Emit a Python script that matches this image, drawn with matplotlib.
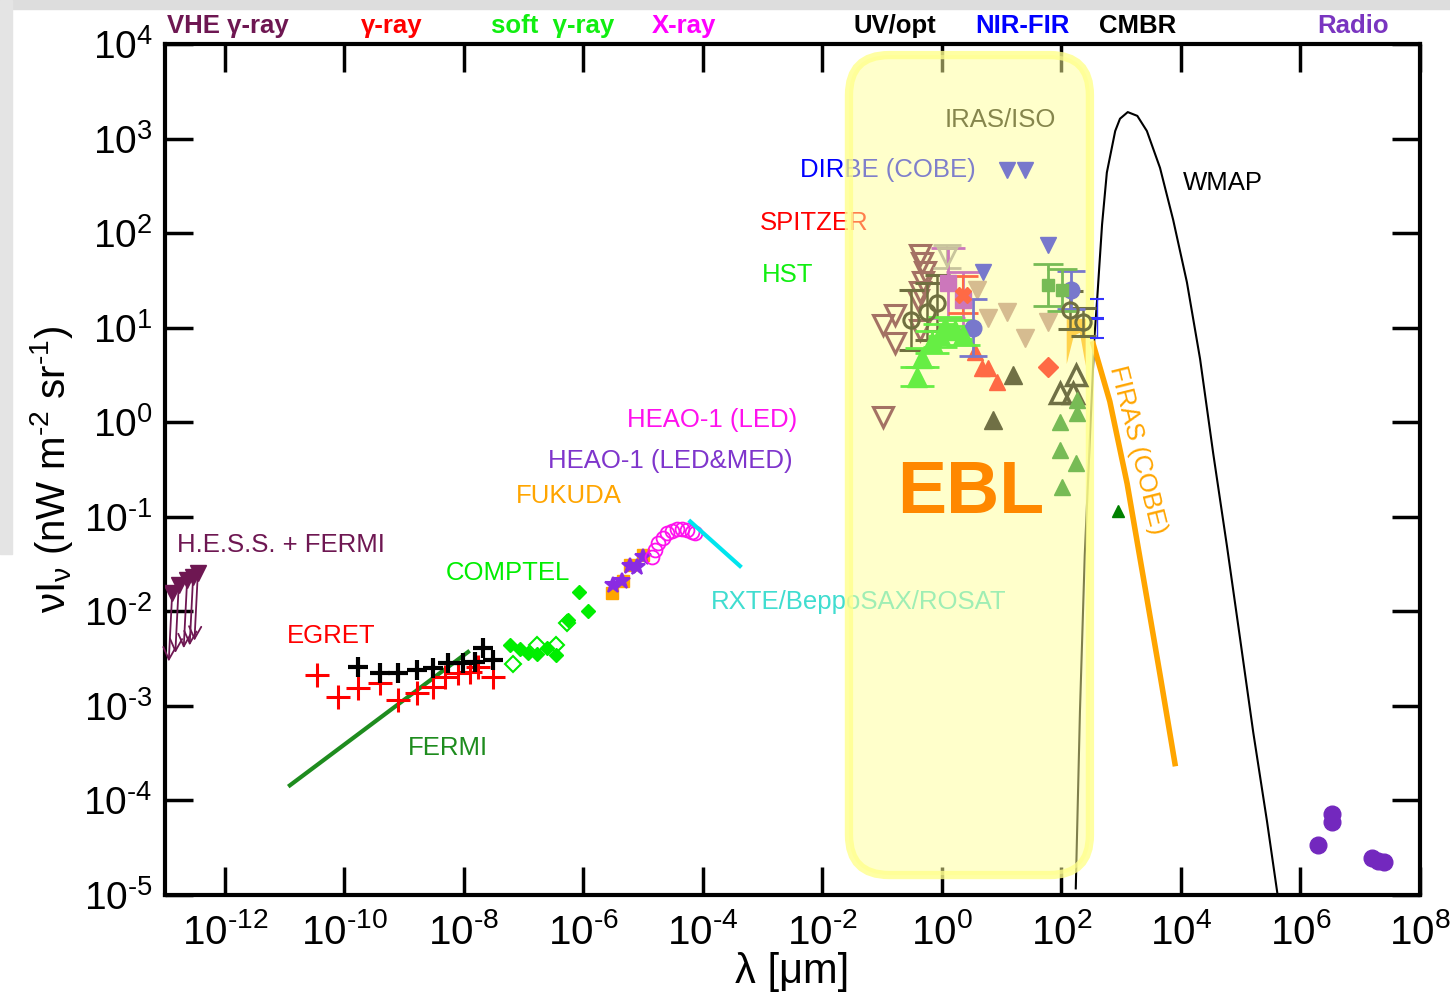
import matplotlib
matplotlib.use("Agg")
import matplotlib.pyplot as plt
from matplotlib.patches import FancyBboxPatch, Rectangle
from matplotlib.ticker import NullLocator
import numpy as np

plt.rcParams['font.family'] = ['Liberation Sans', 'DejaVu Sans']
plt.rcParams['mathtext.fontset'] = 'custom'
plt.rcParams['mathtext.rm'] = 'Liberation Sans'
plt.rcParams['mathtext.it'] = 'Liberation Sans:italic'
plt.rcParams['mathtext.default'] = 'regular'

# ---- data (log10 of lambda [um], log10 of nu I_nu [nW m^-2 sr^-1]) ----
hess_lx = [-12.88, -12.77, -12.63, -12.53, -12.45]
hess_ly = [-1.81, -1.72, -1.67, -1.64, -1.59]

egret_lx = [-10.46, -10.11, -9.77, -9.40, -9.10, -8.78, -8.52, -8.31, -8.10, -7.90, -7.76, -7.51]
egret_ly = [-2.67, -2.91, -2.81, -2.76, -2.94, -2.86, -2.80, -2.69, -2.65, -2.64, -2.59, -2.69]

fermi_pts_lx = [-9.77, -9.40, -9.10, -8.78, -8.52, -8.26, -8.01, -7.81, -7.68, -7.51]
fermi_pts_ly = [-2.59, -2.65, -2.65, -2.62, -2.60, -2.55, -2.55, -2.54, -2.39, -2.51]

fermi_line_lx = [-10.91, -7.93]
fermi_line_ly = [-3.84, -2.43]

comptel_lx = [-7.23, -7.06, -6.93, -6.78, -6.61, -6.46, -6.07, -5.92, -6.26]
comptel_ly = [-2.36, -2.40, -2.44, -2.45, -2.39, -2.46, -1.80, -2.00, -2.09]
comptel_open_lx = [-7.18, -6.78, -6.46, -6.27]
comptel_open_ly = [-2.56, -2.36, -2.36, -2.12]

fukuda_lx = [-5.52, -5.34, -5.22, -5.00]
fukuda_ly = [-1.81, -1.68, -1.51, -1.40]

heao_med_lx = [-5.50, -5.35, -5.22, -5.10, -5.00]
heao_med_ly = [-1.72, -1.68, -1.52, -1.53, -1.43]

heao_led_lx = [-4.85, -4.80, -4.75, -4.67, -4.60, -4.52, -4.43, -4.35, -4.27, -4.18, -4.13]
heao_led_ly = [-1.43, -1.35, -1.28, -1.22, -1.17, -1.15, -1.13, -1.13, -1.14, -1.16, -1.17]

rxte_lx = [-4.21, -3.38]
rxte_ly = [-1.05, -1.52]

# EBL region
brown_lx = [-0.37, -0.33, -0.28, -0.32, -0.37, -0.40, -0.78, -0.99, -0.78, -0.37, -0.99]
brown_ly = [1.77, 1.68, 1.59, 1.48, 1.38, 1.29, 1.13, 1.03, 0.84, 0.98, 0.06]

olive_lx = [-0.52, -0.25, -0.08, 2.14, 2.36]
olive_ly = [1.08, 1.17, 1.26, 1.19, 1.06]
olive_err = [0.32, 0.3, 0.3, 0.2, 0.15]

hst_lx = [-0.33, -0.42, -0.17, -0.03, 0.05, 0.22, 0.35]
hst_ly = [0.68, 0.48, 0.85, 0.92, 1.01, 0.98, 0.92]
hst_err = [0.1, 0.1, 0.12, 0.12, 0.1, 0.1, 0.1]

pink_lx = [0.10, 0.35]
pink_ly = [1.47, 1.29]
pink_err = [0.37, 0.3]

tomato_star_lx = [0.35]
tomato_star_ly = [1.35]
tomato_tri_lx = [0.55, 0.67, 0.77, 0.92]
tomato_tri_ly = [0.74, 0.57, 0.57, 0.43]
tomato_dia_lx = [1.78]
tomato_dia_ly = [0.58]

slate_circ_lx = [0.52, 2.16]
slate_circ_ly = [1.00, 1.40]
slate_circ_err = [0.3, 0.2]
slate_tri_lx = [0.69, 1.78, 1.09, 1.39]
slate_tri_ly = [1.59, 1.87, 2.67, 2.67]

tan_lx = [0.59, 1.09, 1.39, 1.78, 0.77]
tan_ly = [1.40, 1.17, 0.89, 1.06, 1.10]
beige_lx = [0.09]
beige_ly = [1.75]

darkolive_lx = [1.19, 0.86]
darkolive_ly = [0.50, 0.02]
olive_open_tri_lx = [2.24, 1.98, 2.19]
olive_open_tri_ly = [0.50, 0.31, 0.31]

midgreen_tri_lx = [2.26, 1.98, 2.26, 1.98, 2.24, 2.01]
midgreen_tri_ly = [0.24, 0.00, 0.10, -0.29, -0.43, -0.68]
midgreen_sq_lx = [1.78, 2.01]
midgreen_sq_ly = [1.45, 1.40]

dirbe_bar_lx = [2.60, 2.60]
dirbe_bar_ly = [1.20, 0.99]

firas_band_lx = [2.08, 2.20, 2.30, 2.40]
firas_band_lo = [0.62, 0.92, 0.95, 0.60]
firas_band_hi = [1.10, 1.10, 1.10, 1.10]

firas_lx = [2.53, 2.81, 3.10, 3.43, 3.65, 3.90]
firas_ly = [0.83, 0.22, -0.65, -1.86, -2.67, -3.61]

green_pt_lx = [2.95]
green_pt_ly = [-0.94]

cmb_lx = [2.24, 2.31, 2.39, 2.55, 2.60, 2.68, 2.76, 2.90, 2.98, 3.11, 3.27, 3.43,
          3.65, 3.87, 4.10, 4.32, 4.54, 4.77, 4.99, 5.21, 5.44, 5.62]
cmb_ly = [-4.93, -3.06, -1.41, 0.88, 1.32, 2.09, 2.64, 3.08, 3.21, 3.28, 3.24, 3.08,
          2.69, 2.14, 1.48, 0.67, -0.33, -1.31, -2.29, -3.28, -4.22, -5.01]

radio_lx = [6.29, 6.53, 6.53, 7.20, 7.30, 7.40]
radio_ly = [-4.47, -4.14, -4.23, -4.61, -4.64, -4.65]

band_names = ['VHE γ-ray', 'γ-ray', 'soft  γ-ray', 'X-ray', 'UV/opt', 'NIR-FIR', 'CMBR', 'Radio']
band_lx = [-11.95, -9.2, -6.51, -4.32, -0.78, 1.34, 3.28, 6.88]
band_colors = ['#6E1752', '#FF0000', '#11EE11', '#FF00FF', '#000000', '#0000FF', '#000000', '#7A35C0']

xtick_exp = list(range(-12, 9, 2))
ytick_exp = list(range(-5, 5))


def p(v):
    return 10.0 ** np.asarray(v, dtype=float)


def err(ly, dex):
    y = p(ly)
    d = np.asarray(dex)
    return [y - y * 10.0 ** (-d), y * 10.0 ** d - y]


def power_label(k):
    # hyphen instead of a wide minus sign, like the original
    return r'$\mathdefault{10^{%s}}$' % str(k).replace('-', '\u2010')


fig = plt.figure(figsize=(14.5, 10.07), dpi=100)
fig.patches.append(Rectangle((0, 0.991), 1, 0.009, transform=fig.transFigure,
                             color='#DDDDDD', zorder=-5))
fig.patches.append(Rectangle((0, 0.45), 0.008, 0.55, transform=fig.transFigure,
                             color='#E4E4E4', zorder=-5))
ax = fig.add_axes([0.1138, 0.1112, 0.8655, 0.8451])
ax.set_xscale('log')
ax.set_yscale('log')
ax.set_xlim(1e-13, 1e8)
ax.set_ylim(1e-5, 1e4)

# high energy
for x, y in zip(hess_lx, hess_ly):
    ax.annotate('', xy=(p(x - 0.06), p(y - 0.75)), xytext=(p(x), p(y)),
                arrowprops=dict(arrowstyle='->', color='#6E1752', lw=1.3,
                                mutation_scale=22), zorder=3)
ax.plot(p(hess_lx), p(hess_ly), 'v', color='#6E1752', ms=12, zorder=4)
ax.plot(p(fermi_line_lx), p(fermi_line_ly), '-', color='#1E8C1E', lw=3)
ax.plot(p(egret_lx), p(egret_ly), '+', color='#FF0000', ms=17, mew=2.2)
ax.plot(p(fermi_pts_lx), p(fermi_pts_ly), '+', color='#000000', ms=14, mew=3)
ax.plot(p(comptel_lx), p(comptel_ly), 'D', color='#00EE00', ms=7)
ax.plot(p(comptel_open_lx), p(comptel_open_ly), 'D', mfc='none', mec='#00EE00', ms=8, mew=1.5)
ax.plot(p(fukuda_lx), p(fukuda_ly), 's', mfc='#FFA500', mec='#FFA500', ms=8)
ax.plot(p(heao_med_lx), p(heao_med_ly), '*', color='#8A2BE2', ms=12, mew=1.5)
ax.plot(p(heao_led_lx), p(heao_led_ly), 'o', mfc='none', mec='#FF11EE', ms=10, mew=1.3)
ax.plot(p(rxte_lx), p(rxte_ly), '-', color='#00E5EE', lw=3)

# CMB and FIRAS
ax.plot(p(cmb_lx), p(cmb_ly), '-', color='black', lw=1.5, zorder=2)
ax.fill_between(p(firas_band_lx), p(firas_band_lo), p(firas_band_hi), color='#FFA500', lw=0, zorder=2)
ax.plot(p(firas_lx), p(firas_ly), '-', color='#FFA500', lw=4, zorder=2)
ax.plot(p(green_pt_lx), p(green_pt_ly), '^', color='#008000', ms=9)
ax.plot(p(radio_lx), p(radio_ly), 'o', color='#7328BE', ms=12)

# labels under the EBL box
lab = dict(fontsize=18.5, ha='left', va='center', zorder=3)
ax.text(p(-12.8), p(-1.30), 'H.E.S.S. + FERMI', color='#6E1752', **lab)
ax.text(p(-10.96), p(-2.26), 'EGRET', color='#FF0000', **lab)
ax.text(p(-8.93), p(-3.45), 'FERMI', color='#1E8C1E', **lab)
ax.text(p(-8.31), p(-1.59), 'COMPTEL', color='#00EE00', **lab)
ax.text(p(-7.13), p(-0.78), 'FUKUDA', color='#FFA500', **lab)
ax.text(p(-6.59), p(-0.41), 'HEAO-1 (LED&MED)', color='#7F35CC', **lab)
ax.text(p(-5.27), p(0.02), 'HEAO-1 (LED)', color='#FF11EE', **lab)
ax.text(p(-3.86), p(-1.90), 'RXTE/BeppoSAX/ROSAT', color='#40DDD0', **lab)
ax.text(p(-3.01), p(1.56), 'HST', color='#11EE11', **lab)
ax.text(p(-3.04), p(2.11), 'SPITZER', color='#FF0000', **lab)
ax.text(p(-2.37), p(2.67), 'DIRBE (COBE)', color='#0000FF', **lab)
ax.text(p(0.05), p(3.20), 'IRAS/ISO', color='#0D0D00', **lab)
ax.text(p(4.03), p(2.53), 'WMAP', color='#000000', **lab)
ax.text(p(3.27), p(-0.29), 'FIRAS (COBE)', color='#FFA500', fontsize=18.5,
        rotation=-76, ha='center', va='center', rotation_mode='anchor')

# EBL box
box = FancyBboxPatch((0.545, 0.0235), 0.192, 0.9635, transform=ax.transAxes,
                     boxstyle='round,pad=0,rounding_size=0.032', mutation_aspect=1.475,
                     facecolor=(1, 1, 0.6, 0.5), edgecolor=(1, 1, 0.55, 0.8),
                     lw=6, zorder=5)
ax.add_patch(box)

# EBL data on top
zt = 6
ax.plot(p(brown_lx), p(brown_ly), 'v', mfc='none', mec='#A47264', ms=15, mew=2.2, zorder=zt)
ax.errorbar(p(olive_lx), p(olive_ly), yerr=err(olive_ly, olive_err), fmt='o', mfc='none',
            mec='#707040', ecolor='#707040', ms=11, mew=2.2, capsize=9, elinewidth=1.8,
            capthick=1.8, zorder=zt)
ax.plot(p(tan_lx), p(tan_ly), 'v', color='#D6BC90', ms=13, zorder=zt)
ax.errorbar(p(beige_lx), p(beige_ly), yerr=err(beige_ly, [0.12]), fmt='v', mfc='none',
            mec='#C8C49C', ecolor='#C8C49C', ms=13, mew=2, capsize=10, capthick=2, zorder=zt)
ax.errorbar(p(pink_lx), p(pink_ly), yerr=err(pink_ly, pink_err), fmt='s', color='#CC77BB',
            ms=11, capsize=12, capthick=2, elinewidth=2, zorder=zt)
ax.errorbar(p(tomato_star_lx), p(tomato_star_ly), yerr=err(tomato_star_ly, [0.2]), fmt='X',
            color='#FF6A45', ms=12, capsize=11, capthick=2, zorder=zt)
ax.plot(p(tomato_tri_lx), p(tomato_tri_ly), '^', color='#FF6A45', ms=11, zorder=zt)
ax.plot(p(tomato_dia_lx), p(tomato_dia_ly), 'D', color='#FF6A45', ms=10, zorder=zt)
ax.errorbar(p(slate_circ_lx), p(slate_circ_ly), yerr=err(slate_circ_ly, slate_circ_err), fmt='o',
            color='#7878CC', ms=12, capsize=10, capthick=2, elinewidth=2, zorder=zt)
ax.plot(p(slate_tri_lx), p(slate_tri_ly), 'v', color='#7878CC', ms=11, zorder=zt)
ax.errorbar(p(hst_lx), p(hst_ly), yerr=err(hst_ly, hst_err), fmt='^', color='#66EE44',
            ms=14, capsize=12, capthick=2, elinewidth=2, zorder=zt)
ax.plot(p(darkolive_lx), p(darkolive_ly), '^', color='#707045', ms=13, zorder=zt)
ax.plot(p(olive_open_tri_lx), p(olive_open_tri_ly), '^', mfc='none', mec='#707045', ms=14,
        mew=2.5, zorder=zt)
ax.plot(p(midgreen_tri_lx), p(midgreen_tri_ly), '^', color='#77BB55', ms=11, zorder=zt)
ax.errorbar(p(midgreen_sq_lx), p(midgreen_sq_ly), yerr=err(midgreen_sq_ly, [0.22, 0.22]),
            fmt='s', color='#77BB55', ms=8, capsize=11, capthick=2, elinewidth=2, zorder=zt)
ax.errorbar(p(dirbe_bar_lx), p(dirbe_bar_ly), yerr=err(dirbe_bar_ly, [0.1, 0.1]), fmt='none',
            ecolor='#3333FF', capsize=5, capthick=1.5, elinewidth=1, zorder=zt)

ax.text(p(-0.75), p(-0.75), 'EBL', color='#FF8800', fontsize=53, fontweight='bold',
        ha='left', va='center', zorder=8)

# band names above the frame
for name, lx, c in zip(band_names, band_lx, band_colors):
    ax.text(p(lx), 1.013, name, transform=ax.get_xaxis_transform(), color=c,
            fontsize=18.5, fontweight='bold', ha='center', va='baseline')

# axes styling
ax.set_xticks(p(xtick_exp))
ax.set_xticklabels([power_label(k) for k in xtick_exp], fontsize=29)
ax.set_yticks(p(ytick_exp))
ax.set_yticklabels([power_label(k) for k in ytick_exp], fontsize=28)
ax.xaxis.set_minor_locator(NullLocator())
ax.yaxis.set_minor_locator(NullLocator())
ax.tick_params(which='major', direction='in', length=20, width=2.5, top=True, right=True, pad=9)
ax.tick_params(axis='x', pad=13)
for s in ax.spines.values():
    s.set_linewidth(3)
ax.set_xlabel('λ [μm]', fontsize=30, labelpad=0)
ax.set_ylabel('νI$_{ν}$ (nW m$^{\u20102}$ sr$^{\u20101}$)', fontsize=29, labelpad=6)

fig.savefig('out.png', dpi=100)
